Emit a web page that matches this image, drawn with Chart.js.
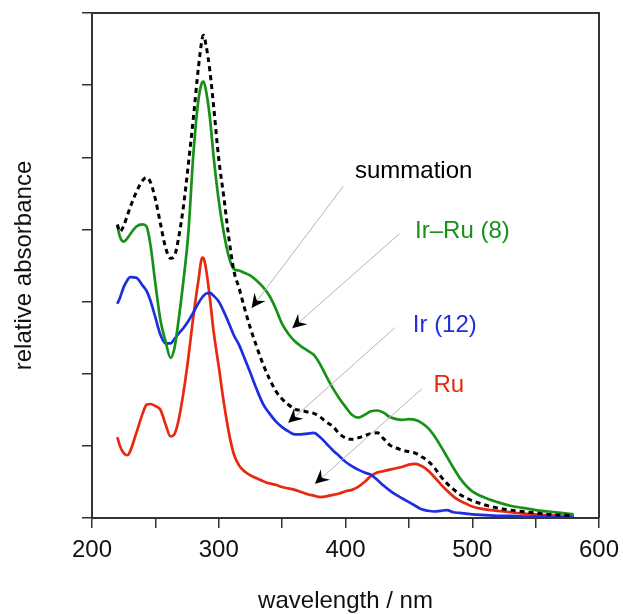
<!DOCTYPE html>
<html>
<head>
<meta charset="utf-8">
<script src="https://cdn.jsdelivr.net/npm/chart.js@4.4.1/dist/chart.umd.min.js"></script>
<style>
html,body{margin:0;padding:0;background:#fff;}
#wrap{width:623px;height:614px;}
</style>
</head>
<body>
<div id="wrap"><canvas id="c" width="623" height="614"></canvas></div>
<script>
// ---- data ----
const wavelengths = [220,222,225,228,230,235,240,243,246,250,254,258,262,265,268,272,276,280,284,287,288,290,293,296,300,304,308,312,316,320,325,330,335,340,345,350,355,360,365,370,375,380,385,390,395,400,405,410,415,420,425,430,435,440,445,450,455,460,465,470,475,480,485,490,495,500,510,520,530,540,550,560,570,580];

const summation = [4.07,3.97,4.05,4.20,4.30,4.52,4.68,4.72,4.66,4.42,4.08,3.75,3.60,3.63,3.85,4.30,4.90,5.55,6.25,6.65,6.69,6.55,6.20,5.70,4.98,4.45,3.88,3.42,3.19,2.93,2.63,2.37,2.13,1.93,1.76,1.65,1.57,1.51,1.49,1.47,1.45,1.40,1.33,1.27,1.17,1.11,1.09,1.11,1.14,1.17,1.18,1.10,1.01,0.97,0.94,0.92,0.90,0.85,0.79,0.70,0.58,0.48,0.40,0.33,0.28,0.24,0.18,0.14,0.11,0.09,0.07,0.05,0.04,0.03];

const irRu8 = [4.06,3.90,3.83,3.88,3.93,4.04,4.07,4.04,3.80,3.25,2.74,2.45,2.22,2.35,2.70,3.27,3.95,5.05,5.80,6.04,6.05,5.92,5.55,5.00,4.40,3.95,3.62,3.45,3.43,3.40,3.36,3.29,3.20,3.08,2.90,2.69,2.55,2.45,2.38,2.32,2.26,2.13,1.96,1.80,1.66,1.54,1.43,1.39,1.43,1.48,1.49,1.46,1.40,1.37,1.36,1.37,1.36,1.32,1.25,1.14,1.00,0.85,0.70,0.56,0.45,0.37,0.28,0.22,0.17,0.14,0.11,0.09,0.07,0.05];

const ir12 = [2.97,3.05,3.20,3.30,3.34,3.33,3.22,3.15,3.02,2.78,2.54,2.42,2.42,2.48,2.55,2.63,2.73,2.85,2.98,3.06,3.08,3.11,3.12,3.08,3.00,2.86,2.70,2.53,2.40,2.23,2.01,1.78,1.58,1.45,1.34,1.26,1.20,1.16,1.16,1.17,1.18,1.12,1.03,0.94,0.86,0.78,0.72,0.67,0.63,0.60,0.53,0.45,0.38,0.32,0.27,0.22,0.17,0.12,0.10,0.09,0.10,0.11,0.08,0.07,0.06,0.05,0.04,0.03,0.03,0.02,0.02,0.01,0.01,0.01];

const ru = [1.12,1.00,0.90,0.87,0.92,1.18,1.45,1.57,1.58,1.55,1.50,1.30,1.13,1.16,1.33,1.72,2.22,2.80,3.30,3.61,3.60,3.45,3.05,2.58,2.10,1.60,1.18,0.88,0.73,0.65,0.59,0.55,0.51,0.48,0.46,0.43,0.41,0.39,0.36,0.33,0.31,0.29,0.30,0.32,0.34,0.37,0.39,0.43,0.50,0.58,0.63,0.65,0.67,0.69,0.71,0.74,0.75,0.72,0.66,0.57,0.47,0.38,0.30,0.24,0.20,0.16,0.12,0.10,0.08,0.06,0.05,0.04,0.03,0.02];

const xTickValues = [200,300,400,500,600];
const seriesNames = ['summation','Ir\u2013Ru (8)','Ir (12)','Ru'];

// ---- styling / layout ----
const FONT = '"Liberation Sans", Arial, Helvetica, sans-serif';
const COLORS = { sum:'#000000', irru:'#179117', ir:'#1c2ee0', ru:'#e8280f' };

// annotation label + leader placement in data units (wavelength, absorbance)
const annotations = [
  { text: seriesNames[0], color: COLORS.sum,  at:[407.5,4.71], from:[398.3,4.60], tip:[325.9,2.91] },
  { text: seriesNames[1], color: COLORS.irru, at:[454.9,3.88], from:[442.5,3.94], tip:[358.0,2.63] },
  { text: seriesNames[2], color: COLORS.ir,   at:[453.1,2.58], from:[439.1,2.64], tip:[354.8,1.32] },
  { text: seriesNames[3], color: COLORS.ru,   at:[469.4,1.75], from:[460.2,1.79], tip:[375.9,0.475] }
];

function pts(arr){ return wavelengths.map((w,i)=>({x:w,y:arr[i]})); }

const framePlugin = {
  id:'frame',
  afterDatasetsDraw(chart){
    const {ctx, chartArea:a, scales:{x,y}} = chart;
    ctx.save();
    annotations.forEach(an=>{
      const sx = x.getPixelForValue(an.from[0]), sy = y.getPixelForValue(an.from[1]);
      const tx = x.getPixelForValue(an.tip[0]),  ty = y.getPixelForValue(an.tip[1]);
      ctx.strokeStyle = '#b4b4b4';
      ctx.lineWidth = 1;
      ctx.beginPath(); ctx.moveTo(sx,sy); ctx.lineTo(tx,ty); ctx.stroke();
      const ang = Math.atan2(ty-sy, tx-sx);
      const L = 14, W = 7, N = 5;
      ctx.save();
      ctx.translate(tx,ty); ctx.rotate(ang);
      ctx.fillStyle = '#000';
      ctx.beginPath();
      ctx.moveTo(0,0);
      ctx.lineTo(-L,-W);
      ctx.lineTo(-L+N,0);
      ctx.lineTo(-L,W);
      ctx.closePath();
      ctx.fill();
      ctx.restore();
      ctx.fillStyle = an.color;
      ctx.font = '24px ' + FONT;
      ctx.textBaseline = 'alphabetic';
      ctx.textAlign = 'left';
      ctx.fillText(an.text, x.getPixelForValue(an.at[0]), y.getPixelForValue(an.at[1]));
    });
    ctx.strokeStyle = '#333';
    ctx.lineWidth = 2;
    ctx.beginPath();
    ctx.moveTo(a.left, a.top); ctx.lineTo(a.right, a.top); ctx.lineTo(a.right, a.bottom);
    ctx.stroke();
    ctx.restore();
  }
};

const chart = new Chart(document.getElementById('c'), {
  type:'line',
  data:{
    datasets:[
      { label:seriesNames[0], data:pts(summation), borderColor:COLORS.sum, borderWidth:3, borderDash:[5,4], pointRadius:0, cubicInterpolationMode:'monotone', order:0 },
      { label:seriesNames[1], data:pts(irRu8), borderColor:COLORS.irru, borderWidth:2.7, pointRadius:0, cubicInterpolationMode:'monotone', order:1 },
      { label:seriesNames[2], data:pts(ir12), borderColor:COLORS.ir, borderWidth:2.7, pointRadius:0, cubicInterpolationMode:'monotone', order:2 },
      { label:seriesNames[3], data:pts(ru), borderColor:COLORS.ru, borderWidth:2.7, pointRadius:0, cubicInterpolationMode:'monotone', order:3 }
    ]
  },
  options:{
    responsive:false,
    animation:false,
    devicePixelRatio:1,
    layout:{ padding:{ top:13, right:24, left:0, bottom:0 } },
    plugins:{ legend:{display:false}, tooltip:{enabled:false} },
    scales:{
      x:{
        type:'linear', min:200, max:600,
        afterBuildTicks(s){ s.ticks = [200,250,300,350,400,450,500,550,600].map(v=>({value:v})); },
        afterFit(s){ s.height = 96; s.paddingLeft = 0; s.paddingRight = 0; },
        ticks:{ autoSkip:false, maxRotation:0, padding:8, color:'#111',
          font:{ family:FONT, size:24 },
          callback:(v)=> xTickValues.includes(v) ? String(v) : '' },
        grid:{ drawOnChartArea:false, drawTicks:true, tickLength:10, color:'#333', lineWidth:1.5 },
        border:{ display:true, color:'#333', width:2 },
        title:{ display:true, text:'wavelength / nm', color:'#111', font:{ family:FONT, size:24 }, padding:{top:0,bottom:-2} }
      },
      y:{
        min:0, max:7,
        afterBuildTicks(s){ s.ticks = [0,1,2,3,4,5,6,7].map(v=>({value:v})); },
        afterFit(s){ s.width = 92; s.paddingTop = 0; s.paddingBottom = 0; },
        ticks:{ display:false },
        grid:{ drawOnChartArea:false, drawTicks:true, tickLength:10, color:'#333', lineWidth:1.5 },
        border:{ display:true, color:'#333', width:2 },
        title:{ display:true, text:'relative absorbance', color:'#111', font:{ family:FONT, size:24 }, padding:{top:10,bottom:0} }
      }
    }
  },
  plugins:[framePlugin]
});
</script>
</body>
</html>
